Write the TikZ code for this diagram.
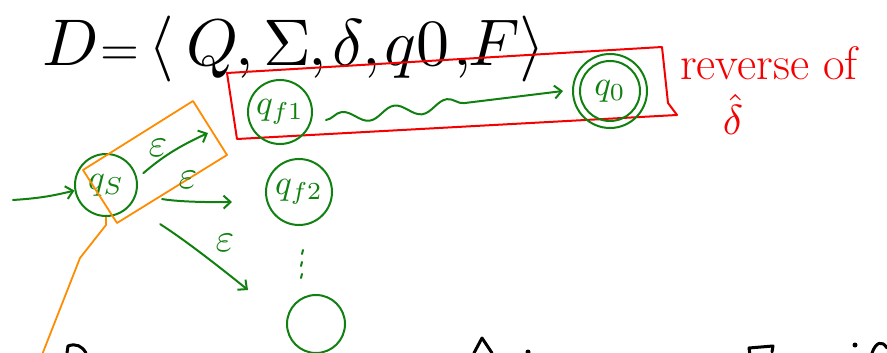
\documentclass[tikz,border=0pt]{standalone}
\usepackage{graphicx}
\usetikzlibrary{arrows.meta,decorations.pathmorphing}
\definecolor{hgreen}{RGB}{16,128,16}
\definecolor{horange}{RGB}{255,140,0}
\definecolor{hred}{RGB}{245,0,0}
\newcommand\sbx[2]{\scalebox{#1}{$#2$}}
\begin{document}
\begin{tikzpicture}[x=1pt,y=-1pt,
  state/.style={circle,draw=hgreen,line width=2pt,minimum size=62pt,inner sep=0pt,text=hgreen},
  garrow/.style={draw=hgreen,line width=2pt,line cap=round,-{Straight Barb[length=7pt,width=13pt,line width=2pt]}},
  ttl/.style={inner sep=0pt,anchor=base},
  eps/.style={text=hgreen,inner sep=0pt},
  ink/.style={line width=3pt,line cap=round,line join=round}]
\useasboundingbox (0,0) rectangle (887,353);
\clip (0,0) rectangle (887,353);
% title
\node[ttl] (tD) at (71,66) {\sbx{6.6}{D}};
\node[ttl] (tEq) at (120,66) {\sbx{5}{=}};
\node[ttl] (tL) at (161,66) {\sbx{6.6}{\langle}};
\node[ttl] (tQ) at (213,66) {\sbx{6.6}{Q}};
\node[ttl] (c1) at (245,66) {\sbx{6.6}{,}};
\node[ttl] (tS) at (287,66) {\sbx{6.6}{\Sigma}};
\node[ttl] (c2) at (318,66) {\sbx{6.6}{,}};
\node[ttl] (tD2) at (348,66) {\sbx{6.6}{\delta}};
\node[ttl] (c3) at (372,66) {\sbx{6.6}{,}};
\node[ttl] (tq0) at (417,66) {\sbx{6.6}{q0}};
\node[ttl] (c4) at (463,66) {\sbx{6.6}{,}};
\node[ttl] (tF) at (494,66) {\sbx{6.6}{F}};
\node[ttl] (tR) at (532,66) {\sbx{6.6}{\rangle}};
% red box
\draw[hred,line width=2pt,line join=round] (227,73) -- (662,47) -- (668,103) -- (677,115) -- (237,139) -- cycle;
\node[text=hred,font=\fontsize{47}{47}\selectfont,anchor=base west,inner sep=0pt] (rev) at (680,80) {reverse of};
\node[text=hred,anchor=base,inner sep=0pt] (dh) at (733,135) {\sbx{4.2}{\hat\delta}};
% states
\node[state] (qs) at (106,185) {\sbx{3.5}{q_S}};
\node[state,minimum size=64pt] (qf1) at (280,112) {\sbx{3.5}{q_{f1}}};
\node[state,minimum size=66pt] (qf2) at (299,192) {\sbx{3.5}{q_{f2}}};
\node[state,minimum size=58pt] (qn) at (316,324) {};
\node[state,minimum size=74pt] (q0) at (610,91) {};
\node[state,minimum size=60pt] (q0in) at (610,91) {\sbx{3.5}{q_0}};
% orange
\draw[horange,line width=1.8pt,line join=round] (83,170) -- (193,101) -- (227,155) -- (117,223) -- cycle;
\draw[horange,line width=1.8pt,line join=round] (qs.south) -- ++(0,8) -- (80,258) -- (40,360);
% arrows
\coordinate (in) at (13,200);
\draw[garrow] (in) to[bend right=5] (qs.190);
\coordinate (e1) at (208,133);
\coordinate (e2) at (232,202);
\coordinate (e3) at (248,290);
\draw[garrow,shorten <=8pt] (qs.12) to[bend left=8] (e1);
\draw[garrow,shorten <=26pt] (qs.-18) to[bend right=5] (e2);
\draw[garrow,shorten <=35pt] (qs.-39) to[bend left=3] (e3);
\node[eps] (l1) at (158,148) {\sbx{4}{\varepsilon}};
\node[eps] (l2) at (188,180) {\sbx{4}{\varepsilon}};
\node[eps] (l3) at (225,243) {\sbx{4}{\varepsilon}};
\draw[garrow,decorate,decoration={snake,amplitude=6pt,segment length=53pt,post length=95pt}] ([xshift=13pt,yshift=-8pt]qf1.east) -- ([xshift=-9pt]q0.west);
% vertical dots
\draw[hgreen,line width=2pt,line cap=round] (303,250) -- (302,254) (302,262) -- (301,266) (302,274) -- (301,278);
% cut-off strokes at the bottom
\draw[ink] (67,353) -- (68,346) .. controls (76,343) and (82,346) .. (86,353);
\draw[ink] (474,353) -- (482,338) -- (492,353);
\fill (528,352) circle (2.5pt);
\draw[ink] (750,355) -- (749,348) -- (773,346) -- (772,352);
\fill (855,345) circle (2.5pt);
\draw[ink] (872,353) .. controls (876,342) and (882,340) .. (887,348);
\end{tikzpicture}
\end{document}
